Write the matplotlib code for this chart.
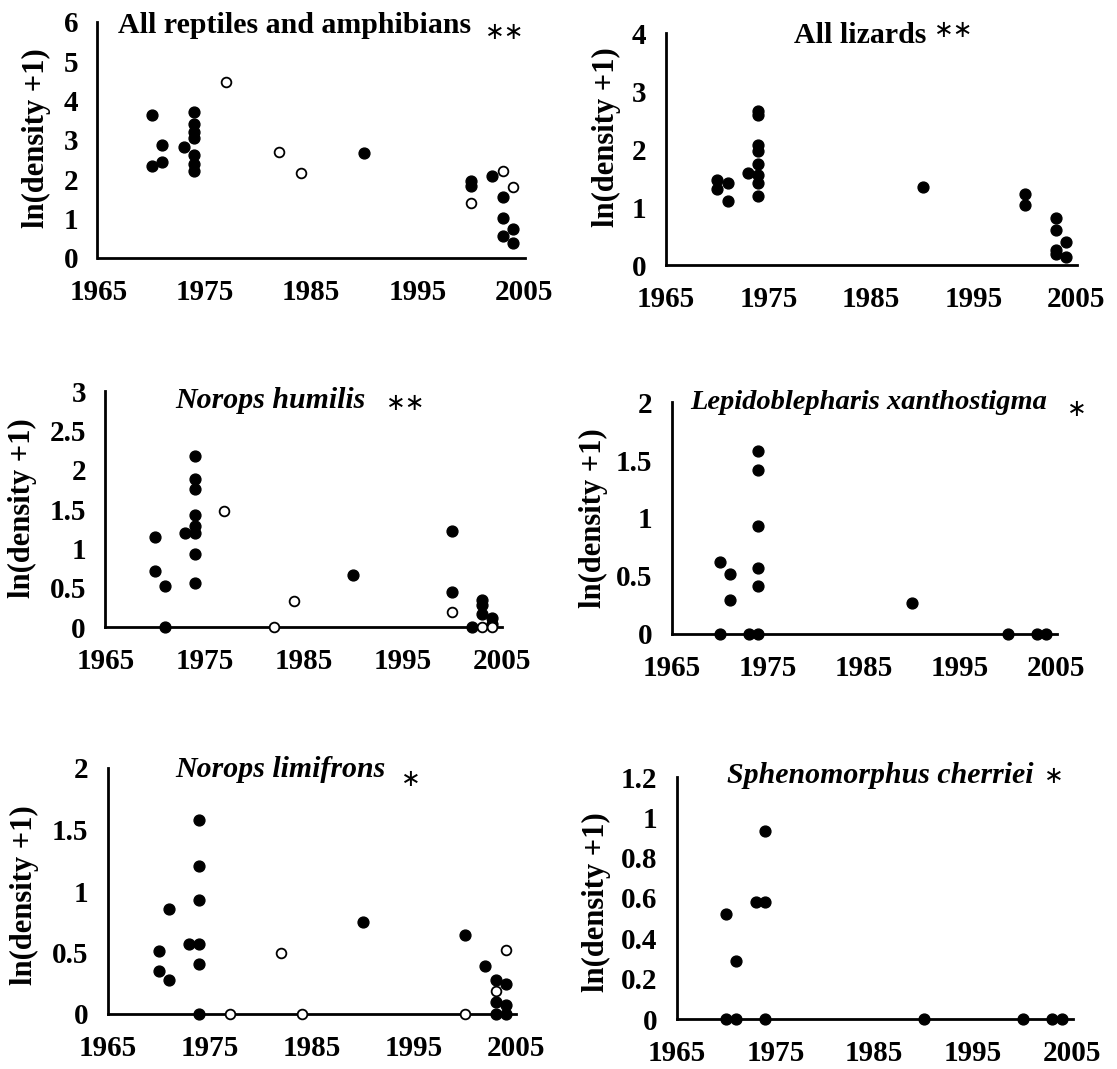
import numpy as np
import matplotlib
matplotlib.use("Agg")
import matplotlib.pyplot as plt

plt.rcParams['font.family'] = ['Liberation Serif', 'DejaVu Serif']
plt.rcParams['font.weight'] = 'bold'

W, H = 1117, 1069

# All reptiles and amphibians
herp_yr = [1970, 1970, 1971, 1971, 1973, 1974, 1974, 1974, 1974, 1974, 1974, 1974,
           1990, 2000, 2000, 2002, 2003, 2003, 2003, 2004, 2004]
herp_val = [3.63, 2.34, 2.87, 2.43, 2.83, 3.72, 3.40, 3.21, 3.04, 2.61, 2.40, 2.22,
            2.67, 1.97, 1.83, 2.09, 1.56, 1.01, 0.57, 0.75, 0.39]
herp_yr_open = [1977, 1982, 1984, 2000, 2003, 2004]
herp_val_open = [4.48, 2.70, 2.16, 1.41, 2.22, 1.81]

# All lizards
liz_yr = [1970, 1970, 1971, 1971, 1973, 1974, 1974, 1974, 1974, 1974, 1974, 1974, 1974,
          1990, 2000, 2000, 2003, 2003, 2003, 2003, 2004, 2004]
liz_val = [1.47, 1.31, 1.41, 1.10, 1.58, 2.65, 2.59, 2.07, 1.97, 1.74, 1.55, 1.41, 1.19,
           1.35, 1.23, 1.04, 0.81, 0.60, 0.26, 0.19, 0.39, 0.13]

# Norops humilis
hum_yr = [1970, 1970, 1971, 1971, 1973, 1974, 1974, 1974, 1974, 1974, 1974, 1974, 1974,
          1990, 2000, 2000, 2002, 2003, 2003, 2003, 2004, 2004]
hum_val = [1.15, 0.71, 0.52, 0.0, 1.20, 2.18, 1.88, 1.75, 1.42, 1.29, 1.20, 0.93, 0.56,
           0.66, 1.22, 0.45, 0.0, 0.34, 0.28, 0.17, 0.11, 0.04]
hum_yr_open = [1977, 1982, 1984, 2000, 2003, 2004]
hum_val_open = [1.48, 0.0, 0.33, 0.19, 0.0, 0.0]

# Lepidoblepharis xanthostigma
lep_yr = [1970, 1970, 1971, 1971, 1973, 1974, 1974, 1974, 1974, 1974, 1974,
          1990, 2000, 2003, 2004]
lep_val = [0.62, 0.0, 0.52, 0.29, 0.0, 1.58, 1.41, 0.93, 0.57, 0.41, 0.0,
           0.27, 0.0, 0.0, 0.0]

# Norops limifrons
lim_yr = [1970, 1970, 1971, 1971, 1973, 1974, 1974, 1974, 1974, 1974, 1974,
          1990, 2000, 2002, 2003, 2003, 2003, 2004, 2004, 2004]
lim_val = [0.51, 0.35, 0.85, 0.28, 0.57, 1.58, 1.20, 0.93, 0.57, 0.41, 0.0,
           0.75, 0.64, 0.39, 0.28, 0.10, 0.0, 0.24, 0.07, 0.0]
lim_yr_open = [1977, 1982, 1984, 2000, 2003, 2004]
lim_val_open = [0.0, 0.50, 0.0, 0.0, 0.19, 0.52]

# Sphenomorphus cherriei
sph_yr = [1970, 1970, 1971, 1971, 1973, 1974, 1974, 1974, 1990, 2000, 2003, 2004]
sph_val = [0.52, 0.0, 0.29, 0.0, 0.58, 0.93, 0.58, 0.0, 0.0, 0.0, 0.0, 0.0]

year_ticks = [1965, 1975, 1985, 1995, 2005]


def px_axes(left, right, top, bottom):
    return [left / W, (H - bottom) / H, (right - left) / W, (bottom - top) / H]


def fx(x):
    return x / W


def fy(y):
    return (H - y) / H


fig = plt.figure(figsize=(W / 100, H / 100), dpi=100)

panels = [
    dict(box=(97.5, 525, 22, 258), xlim=(1964.9, 2005.1), ylim=(0, 6),
         yt=[0, 1, 2, 3, 4, 5, 6], ytl=['0', '1', '2', '3', '4', '5', '6'],
         f=(herp_yr, herp_val), o=(herp_yr_open, herp_val_open),
         title='All reptiles and amphibians', it=False, tsize=21.5, tpos=(118, 33),
         stars='∗∗', spos=(505, 32), lpos=(36, 138)),
    dict(box=(666, 1077, 33, 265), xlim=(1965.1, 2005.05), ylim=(0, 4),
         yt=[0, 1, 2, 3, 4], ytl=['0', '1', '2', '3', '4'],
         f=(liz_yr, liz_val), o=None,
         title='All lizards', it=False, tsize=21.5, tpos=(794, 43),
         stars='∗∗', spos=(954, 30), lpos=(606, 137)),
    dict(box=(105.4, 502, 391, 627), xlim=(1965, 2005), ylim=(0, 3),
         yt=[0, 0.5, 1, 1.5, 2, 2.5, 3], ytl=['0', '0.5', '1', '1.5', '2', '2.5', '3'],
         f=(hum_yr, hum_val), o=(hum_yr_open, hum_val_open),
         title='Norops humilis', it=True, tsize=21.5, tpos=(175, 408),
         stars='∗∗', spos=(406, 403), lpos=(22, 508)),
    dict(box=(672, 1057, 402, 634), xlim=(1965, 2005.1), ylim=(0, 2),
         yt=[0, 0.5, 1, 1.5, 2], ytl=['0', '0.5', '1', '1.5', '2'],
         f=(lep_yr, lep_val), o=None,
         title='Lepidoblepharis xanthostigma', it=True, tsize=20.5, tpos=(690, 409),
         stars='∗', spos=(1077, 409), lpos=(593, 518)),
    dict(box=(107.5, 516, 768, 1014), xlim=(1965, 2005), ylim=(0, 2),
         yt=[0, 0.5, 1, 1.5, 2], ytl=['0', '0.5', '1', '1.5', '2'],
         f=(lim_yr, lim_val), o=(lim_yr_open, lim_val_open),
         title='Norops limifrons', it=True, tsize=21.5, tpos=(175, 777),
         stars='∗', spos=(411, 779), lpos=(24, 895)),
    dict(box=(676.5, 1073, 777, 1019), xlim=(1965, 2005.1), ylim=(0, 1.2),
         yt=[0, 0.2, 0.4, 0.6, 0.8, 1, 1.2], ytl=['0', '0.2', '0.4', '0.6', '0.8', '1', '1.2'],
         f=(sph_yr, sph_val), o=None,
         title='Sphenomorphus cherriei', it=True, tsize=21.5, tpos=(727, 783),
         stars='∗', spos=(1054, 776), lpos=(596, 902)),
]

for p in panels:
    ax = fig.add_axes(px_axes(*p['box']))
    ax.set_xlim(*p['xlim'])
    ax.set_ylim(*p['ylim'])
    for s in ['top', 'right']:
        ax.spines[s].set_visible(False)
    for s in ['left', 'bottom']:
        ax.spines[s].set_linewidth(2)
        ax.spines[s].set_zorder(2)
    ax.set_xticks(year_ticks)
    ax.set_xticklabels([str(y) for y in year_ticks])
    ax.set_yticks(p['yt'])
    ax.set_yticklabels(p['ytl'])
    ax.tick_params(axis='x', length=0, pad=15, labelsize=21)
    ax.tick_params(axis='y', length=0, pad=14, labelsize=21)
    ax.patch.set_alpha(0)

    ax.plot(p['f'][0], p['f'][1], 'o', color='black', ms=7.8, clip_on=False, zorder=4)
    if p['o'] is not None:
        ax.plot(p['o'][0], p['o'][1], 'o', mfc='white', mec='black', mew=1.3,
                ms=7, clip_on=False, zorder=4)

    fig.text(fx(p['tpos'][0]), fy(p['tpos'][1]), p['title'], fontsize=p['tsize'],
             fontweight='bold', style='italic' if p['it'] else 'normal',
             ha='left', va='baseline')
    fig.text(fx(p['spos'][0]), fy(p['spos'][1]), p['stars'], fontsize=17,
             fontweight='normal', family='DejaVu Sans', ha='center', va='center')
    fig.text(fx(p['lpos'][0]), fy(p['lpos'][1]), 'ln(density +1)', fontsize=22,
             fontweight='bold', rotation=90, ha='center', va='center')

fig.savefig('out.png', dpi=100, facecolor='white')
